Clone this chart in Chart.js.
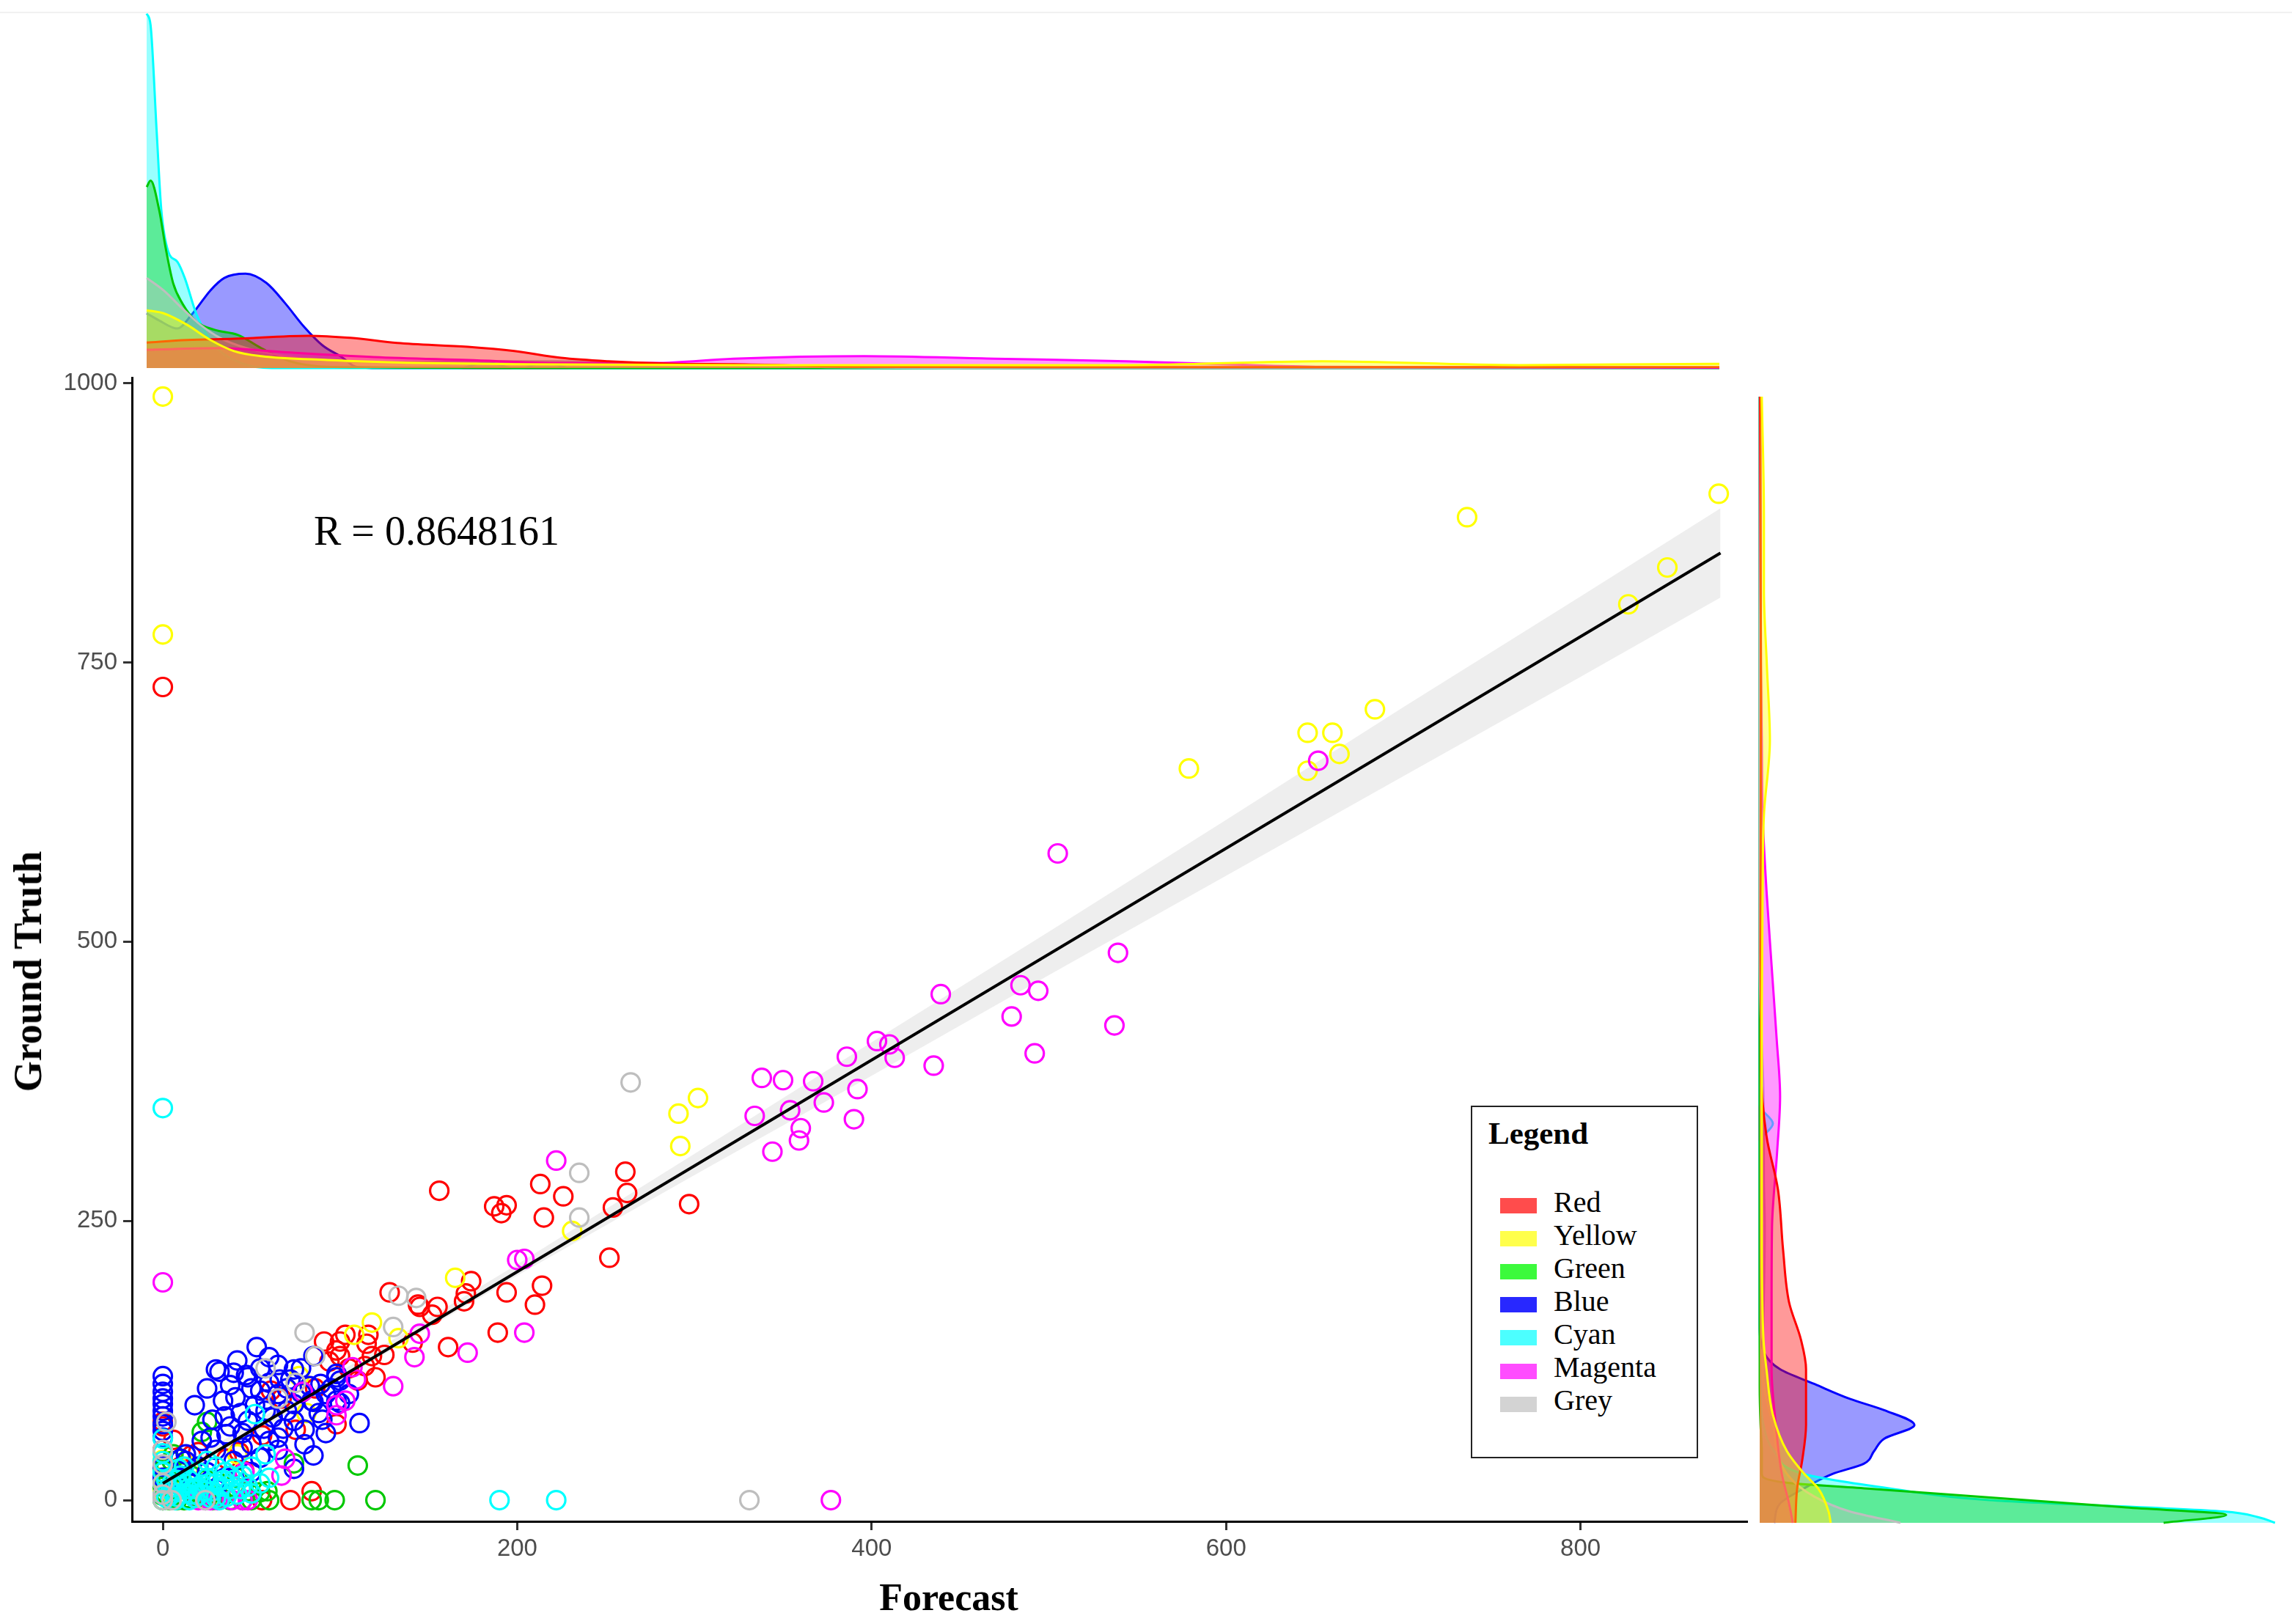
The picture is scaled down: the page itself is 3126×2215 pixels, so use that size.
<!DOCTYPE html>
<html>
<head>
<meta charset="utf-8">
<script src="https://cdn.jsdelivr.net/npm/chart.js@4.4.1/dist/chart.umd.min.js"></script>
<style>
html,body{margin:0;padding:0;background:#fff;}
#wrap{position:relative;width:3126px;height:2215px;overflow:hidden;background:#fff;}
canvas{position:absolute;}
#topline{position:absolute;left:0;top:16px;width:3126px;height:2px;background:#f1f1f1;}
#rtext{position:absolute;left:428px;top:696px;font-family:'Liberation Serif','DejaVu Serif',serif;font-size:56px;line-height:56px;color:#000;white-space:nowrap;}
#xtitle{position:absolute;left:1294px;top:2153px;transform:translateX(-50%);font-family:'Liberation Serif','DejaVu Serif',serif;font-size:52px;line-height:52px;font-weight:bold;color:#000;white-space:nowrap;}
#ytitle{position:absolute;left:38px;top:1325px;transform:translate(-50%,-50%) rotate(-90deg);font-family:'Liberation Serif','DejaVu Serif',serif;font-size:54px;line-height:54px;font-weight:bold;color:#000;white-space:nowrap;}
#legend{position:absolute;left:2006px;top:1508px;width:306px;height:477px;border:2.5px solid #222;background:#fff;font-family:'Liberation Serif','DejaVu Serif',serif;color:#000;}
#legend .ttl{position:absolute;left:22px;top:14px;font-size:43px;line-height:43px;font-weight:bold;}
#legend .sw{position:absolute;left:38px;width:50px;height:21px;}
#legend .lb{position:absolute;left:111px;font-size:40px;line-height:40px;white-space:nowrap;}
</style>
</head>
<body>
<div id="wrap">
  <div id="topline"></div>
  <canvas id="topChart" width="2400" height="520" style="left:0;top:0;"></canvas>
  <canvas id="mainChart" width="2384" height="1715" style="left:0;top:500px;"></canvas>
  <canvas id="rightChart" width="736" height="1695" style="left:2390px;top:520px;"></canvas>
  <div id="rtext">R = 0.8648161</div>
  <div id="xtitle">Forecast</div>
  <div id="ytitle">Ground Truth</div>
  <div id="legend"></div>
</div>
<script>
// ---------------- DATA ----------------
const groupNames = ['Red','Yellow','Green','Blue','Cyan','Magenta','Grey'];
const lineColors = ['#FF0000','#FFFF00','#00C800','#0000FF','#00FFFF','#FF00FF','#BEBEBE'];
const fillColors = ['rgba(255,0,0,0.4)','rgba(255,255,0,0.4)','rgba(0,205,0,0.4)','rgba(0,0,255,0.4)','rgba(0,255,255,0.4)','rgba(255,0,255,0.4)','rgba(190,190,190,0.4)'];
const legendColors = ['#FF4C4C','#FFFF4C','#3CFA3C','#2828FF','#4CFFFF','#FF4CFF','#D3D3D3'];

const xTicks = [0,200,400,600,800];
const yTicks = [0,250,500,750,1000];

// scatter points [Forecast, Ground Truth]
const red = [[0,728],[156,277],[187,263],[194,264],[191,257],[213,283],[226,272],[215,253],[254,262],[261,294],[262,275],[297,265],[252,217],[174,196],[171,185],[170,178],[194,186],[214,192],[210,175],[189,150],[161,137],[141,141],[145,173],[155,173],[152,166],[128,186],[103,148],[116,148],[91,142],[100,142],[98,134],[100,129],[115,140],[118,129],[114,120],[120,110],[110,107],[86,100],[94,124],[98,68],[61,98],[67,91],[75,63],[56,58],[43,43],[36,37],[20,43],[16,40],[6,54],[0,66],[0,70],[46,26],[56,0],[72,0],[84,8],[0,45],[10,30],[144,175],[105,118],[125,130]];
const yellow = [[0,988],[0,775],[878,901],[736,880],[849,835],[827,802],[684,708],[646,687],[660,687],[664,668],[646,653],[579,655],[302,360],[291,346],[292,317],[231,241],[165,199],[118,159],[108,148],[133,145],[77,111],[81,78],[0,36],[0,20],[5,10],[15,30],[42,41],[30,5],[0,0],[20,2],[0,8],[10,15]];
const green = [[0,0],[2,5],[5,2],[8,10],[0,12],[3,20],[10,5],[12,0],[15,8],[18,15],[20,3],[25,10],[28,0],[30,18],[0,28],[5,35],[10,25],[35,5],[40,12],[45,0],[48,8],[55,7],[59,8],[50,0],[25,70],[22,61],[74,33],[110,31],[84,0],[88,0],[97,0],[120,0],[60,0],[0,25],[6,41],[0,4],[4,0],[14,2],[22,6],[33,2],[38,0],[16,22],[6,6],[12,14],[18,8],[24,18],[2,30],[8,0],[26,4],[42,20]];
const blue = [[0,111],[0,104],[0,97],[0,91],[0,86],[0,80],[0,75],[0,68],[0,62],[0,56],[53,137],[30,117],[32,115],[40,114],[47,112],[65,121],[74,117],[83,102],[89,104],[98,110],[100,107],[98,113],[85,129],[48,110],[34,89],[41,92],[55,98],[65,95],[74,86],[84,89],[98,89],[100,87],[85,88],[48,71],[62,74],[74,71],[80,63],[111,69],[27,56],[36,59],[50,50],[60,53],[65,56],[13,35],[74,28],[22,53],[45,47],[58,80],[70,80],[52,85],[44,78],[38,66],[57,64],[68,64],[30,45],[40,35],[55,38],[20,30],[8,20],[15,15],[0,30],[25,25],[35,20],[88,78],[92,95],[78,96],[60,105],[50,100],[66,108],[10,37],[13,41],[0,20],[70,100],[90,72],[55,118],[35,75],[42,125],[60,128],[25,100],[18,85],[28,72],[72,108],[95,100],[105,95],[58,90],[45,60],[65,45],[80,50],[85,40],[50,25],[30,10],[92,60],[78,118],[38,103]];
const cyan = [[0,351],[190,0],[222,0],[0,0],[0,5],[2,2],[5,8],[8,3],[10,12],[12,6],[15,0],[15,18],[18,10],[20,4],[22,14],[25,20],[28,8],[30,15],[32,0],[35,25],[38,10],[40,18],[42,5],[45,22],[48,12],[50,30],[20,25],[10,22],[5,15],[0,25],[0,35],[0,42],[0,55],[52,77],[58,41],[25,35],[30,30],[12,30],[3,10],[7,0],[18,2],[27,2],[36,3],[55,15],[60,20],[0,15],[8,18],[33,12],[4,4],[6,12],[14,10],[16,5],[24,8],[26,15],[34,18],[38,22],[44,10],[50,6],[2,18],[9,28],[20,12],[30,2],[40,28]];
const magenta = [[0,195],[505,579],[539,490],[439,453],[484,461],[494,456],[479,433],[537,425],[492,400],[435,389],[403,411],[410,408],[413,396],[386,397],[392,368],[367,375],[373,356],[350,376],[338,378],[354,349],[390,341],[360,333],[359,322],[344,312],[334,344],[377,0],[652,662],[222,304],[200,215],[204,216],[145,149],[172,132],[142,128],[204,150],[130,102],[107,119],[109,108],[79,97],[98,85],[103,89],[98,76],[69,37],[67,22],[46,25],[20,0],[24,0],[27,0],[31,0],[39,0],[45,0],[48,0]];
const grey = [[264,374],[235,293],[235,253],[331,0],[143,181],[133,183],[130,155],[80,150],[86,129],[58,118],[2,70],[0,32],[0,0],[24,0],[65,91],[0,45],[0,5],[5,0],[0,15],[75,105]];

// fitted line and confidence band
const fitX = [0, 879];
const fitY = [15, 848];
const bandX = [0,100,200,300,400,500,600,700,800,879];
const bandUpper = [22,115,211,310,410,509,609,710,809,888];
const bandLower = [8,107,201,291,380,470,559,648,737,808];

// marginal densities of Forecast (top): [Forecast, density x1e-3]
const redTopDens = [[0,6.0],[22.5,6.6],[48.8,6.9],[90.6,7.6],[114,7.1],[140,5.9],[179.5,5.0],[205.5,4.0],[231.6,2.4],[258,1.6],[297,1.0],[328,0.9],[400,0.3],[500,0.2],[879,0.2]];
const yellowTopDens = [[0,13.6],[9.4,12.9],[22.5,10.2],[35.7,6.6],[48.8,4.0],[64,2.8],[101,1.9],[153,1.2],[205.5,0.9],[328,0.7],[547.5,0.7],[657,1.6],[767,0.7],[876.6,1.0],[879,1.0]];
const greenTopDens = [[0,42.6],[2.2,44.1],[7,37.2],[10.7,28.1],[14.8,20.0],[20,15.2],[27.9,10.9],[38,9.0],[51,7.8],[64,4.7],[80,1.6],[101,0.3],[123,0.2],[150,0.1],[200,0],[879,0]];
const blueTopDens = [[0,12.9],[7,11.2],[17.2,9.3],[25.2,12.6],[27.9,14.0],[35.7,18.3],[43.4,21.2],[55.3,22.2],[67,20.0],[77.5,15.2],[88,9.7],[98.4,5.3],[109,2.6],[117,0.3],[130,0],[879,0]];
const cyanTopDens = [[0,83.4],[2.2,80.7],[5.6,55.7],[8.2,37.2],[12.1,27.4],[17.2,25.0],[21.3,21.2],[27.9,12.6],[38.1,5.3],[54,1.0],[70,0],[175,0],[190,1.4],[205,0],[210,0],[222,1.4],[237,0],[400,0],[879,0]];
const magentaTopDens = [[0,4.3],[41,4.7],[75,3.8],[127,2.6],[179.5,1.9],[231.6,1.2],[284,1.2],[328,2.2],[401,2.8],[474,2.2],[547.5,1.6],[602,0.9],[657,0.3],[750,0.2],[879,0.1]];
const greyTopDens = [[0,21.2],[9.4,18.3],[20,14.0],[30,10.2],[41,7.1],[55,4.8],[80,2.6],[100,1.7],[140,1.4],[180,1.6],[230,1.6],[270,1.0],[330,0.7],[380,0.2],[450,0],[879,0]];

// marginal densities of Ground Truth (right): [Ground Truth, density x1e-3]
const redRightDens = [[0,8.4],[30,8.8],[55,10.0],[86,10.9],[135,10.9],[161,9.7],[194,6.9],[240,5.5],[293,4.3],[340,1.6],[400,0.3],[500,0.2],[730,0.3],[990,0.1]];
const yellowRightDens = [[0,16.7],[10,16.2],[30,13.8],[43,10.5],[63,6.4],[95,3.1],[135,1.6],[161,0.9],[250,0.5],[350,0.5],[450,0.5],[556,0.7],[622,1.0],[688,2.4],[753,1.7],[820,1.0],[885,1.0],[990,0.5]];
const greenRightDens = [[0,95.0],[7,109.7],[13.5,86.2],[20,62.6],[30,25.9],[36,4.8],[43,0.5],[63,0.5],[86,0.2],[120,0],[990,0]];
const blueRightDens = [[0,3.4],[17,4.8],[30,10.3],[43,17.1],[52,24.5],[63,26.9],[74,29.3],[86,36.4],[99,29.3],[109,21.2],[122,12.9],[135,4.8],[150,1.0],[175,0],[990,0]];
const cyanRightDens = [[0,121.2],[5,117.2],[10,109.0],[20,54.0],[30,31.0],[43,10.3],[63,3.4],[86,0.9],[120,0.2],[200,0],[335,0],[351,3.1],[367,0],[500,0],[990,0]];
const magentaRightDens = [[0,7.8],[17,6.9],[43,5.2],[86,3.8],[135,2.8],[194,2.8],[260,2.9],[326,4.1],[375,4.8],[425,4.0],[490,2.8],[556,1.6],[622,0.7],[688,0.5],[753,0.3],[885,0.2],[990,0.1]];
const greyRightDens = [[0,33.1],[10,21.2],[23,12.9],[43,6.4],[86,3.1],[135,0.7],[180,0.9],[260,1.2],[300,1.0],[375,0.9],[450,0.2],[500,0],[990,0]];

// ---------------- CHARTS ----------------
Chart.defaults.animation = false;
Chart.defaults.responsive = false;
Chart.defaults.devicePixelRatio = 1;
Chart.defaults.plugins.legend.display = false;
Chart.defaults.plugins.tooltip.enabled = false;

const points = [red, yellow, green, blue, cyan, magenta, grey];
const topDens = [redTopDens, yellowTopDens, greenTopDens, blueTopDens, cyanTopDens, magentaTopDens, greyTopDens];
const rightDens = [redRightDens, yellowRightDens, greenRightDens, blueRightDens, cyanRightDens, magentaRightDens, greyRightDens];
const densLayer = {Blue:0, Cyan:1, Green:2, Grey:3, Magenta:4, Red:5, Yellow:6};
const pointLayer = {Red:7, Yellow:6, Green:5, Blue:4, Magenta:3, Cyan:2, Grey:1};

const tickFont = {family: "'Liberation Sans Narrow','Liberation Sans',sans-serif", size: 33};

const mainDatasets = [];
mainDatasets.push({
  label: 'fit', data: fitX.map((x,i)=>({x, y: fitY[i]})), showLine: true,
  borderColor: '#000', borderWidth: 4, pointRadius: 0, order: 0
});
groupNames.forEach((g,i)=>{
  mainDatasets.push({
    label: g, data: points[i].map(p=>({x:p[0], y:p[1]})),
    pointStyle: 'circle', pointRadius: 12.5, pointBorderWidth: 3.2,
    borderColor: lineColors[i], backgroundColor: 'rgba(0,0,0,0)',
    pointBackgroundColor: 'rgba(0,0,0,0)', pointBorderColor: lineColors[i],
    showLine: false, order: pointLayer[g]
  });
});
mainDatasets.push({
  label: 'upper', data: bandX.map((x,i)=>({x, y: bandUpper[i]})), showLine: true,
  borderWidth: 0, borderColor: 'rgba(0,0,0,0)', pointRadius: 0,
  fill: '+1', backgroundColor: 'rgba(0,0,0,0.065)', order: 20
});
mainDatasets.push({
  label: 'lower', data: bandX.map((x,i)=>({x, y: bandLower[i]})), showLine: true,
  borderWidth: 0, borderColor: 'rgba(0,0,0,0)', pointRadius: 0, fill: false, order: 21
});

new Chart(document.getElementById('mainChart'), {
  type: 'scatter',
  data: {datasets: mainDatasets},
  options: {
    layout: {autoPadding: false, padding: {top: 15, right: 0, bottom: 0, left: 0}},
    scales: {
      x: {
        type: 'linear', min: -17.4, max: 894.5,
        afterBuildTicks: s => { s.ticks = xTicks.map(v=>({value:v})); },
        afterFit: s => { s.height = 140; s.paddingLeft = 0; s.paddingRight = 0; s.paddingTop = 0; s.paddingBottom = 0; },
        grid: {display: true, drawOnChartArea: false, drawTicks: true, tickLength: 12, tickWidth: 3, tickColor: '#333'},
        border: {display: true, color: '#000', width: 3},
        ticks: {font: tickFont, color: '#4d4d4d', padding: 6, maxRotation: 0, callback: v => String(v)}
      },
      y: {
        type: 'linear', min: -19, max: 1005,
        afterBuildTicks: s => { s.ticks = yTicks.map(v=>({value:v})); },
        afterFit: s => { s.width = 180; s.paddingLeft = 0; s.paddingRight = 0; s.paddingTop = 0; s.paddingBottom = 0; },
        grid: {display: true, drawOnChartArea: false, drawTicks: true, tickLength: 12, tickWidth: 3, tickColor: '#333'},
        border: {display: true, color: '#000', width: 3},
        ticks: {font: tickFont, color: '#4d4d4d', padding: 8, callback: v => String(v)}
      }
    }
  }
});

new Chart(document.getElementById('topChart'), {
  type: 'scatter',
  data: {datasets: groupNames.map((g,i)=>({
    label: g, data: topDens[i].map(p=>({x:p[0], y:p[1]})), showLine: true,
    borderColor: lineColors[i], borderWidth: 3, backgroundColor: fillColors[i],
    fill: 'origin', pointRadius: 0, cubicInterpolationMode: 'monotone', clip: false,
    order: 10 - densLayer[g]
  }))},
  options: {
    layout: {autoPadding: false, padding: {left: 200, right: 55, top: 0, bottom: 18}},
    scales: {
      x: {type: 'linear', min: 0, max: 879, display: false},
      y: {type: 'linear', min: 0, max: 86.6, display: false}
    }
  }
});

new Chart(document.getElementById('rightChart'), {
  type: 'line',
  data: {datasets: groupNames.map((g,i)=>({
    label: g, data: rightDens[i].map(p=>({x:p[1], y:p[0]})),
    borderColor: lineColors[i], borderWidth: 3, backgroundColor: fillColors[i],
    fill: 'origin', pointRadius: 0, cubicInterpolationMode: 'monotone', clip: false,
    order: 10 - densLayer[g]
  }))},
  options: {
    indexAxis: 'y',
    layout: {autoPadding: false, padding: {left: 10, right: 0, top: 21, bottom: 138}},
    scales: {
      x: {type: 'linear', min: 0, max: 125.2, display: false},
      y: {type: 'linear', min: 0, max: 990, display: false}
    }
  }
});

const leg = document.getElementById('legend');
const t = document.createElement('div'); t.className = 'ttl'; t.textContent = 'Legend'; leg.appendChild(t);
groupNames.forEach((g,i)=>{
  const base = 143 + i*45.1;
  const sw = document.createElement('div'); sw.className = 'sw';
  sw.style.top = (base - 19) + 'px'; sw.style.background = legendColors[i];
  leg.appendChild(sw);
  const lb = document.createElement('div'); lb.className = 'lb';
  lb.style.top = (base - 33.5) + 'px'; lb.textContent = g;
  leg.appendChild(lb);
});
</script>
</body>
</html>
